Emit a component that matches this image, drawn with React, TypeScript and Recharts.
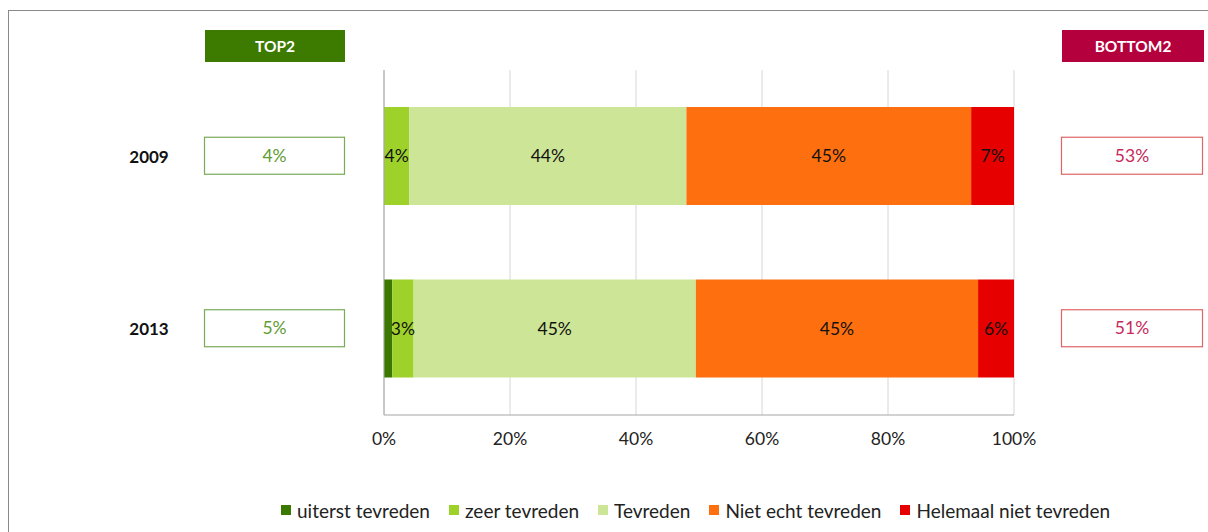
import React from 'react';
import { BarChart, Bar, XAxis, YAxis, CartesianGrid, LabelList, Legend } from 'recharts';

const years = ['2009', '2013'];
const uiterst = [0, 1.3];
const zeer = [4.0, 3.4];
const tevreden = [44.0, 44.8];
const nietEcht = [45.2, 44.8];
const helemaal = [6.8, 5.7];
const top2 = ['4%', '5%'];
const bottom2 = ['53%', '51%'];
const xTicks = [0, 20, 40, 60, 80, 100];

const series = [
  { key: 'uiterst', name: 'uiterst tevreden', color: '#3b7800' },
  { key: 'zeer', name: 'zeer tevreden', color: '#9fd12b' },
  { key: 'tevreden', name: 'Tevreden', color: '#cde596' },
  { key: 'nietEcht', name: 'Niet echt tevreden', color: '#fe6f10' },
  { key: 'helemaal', name: 'Helemaal niet tevreden', color: '#e60000' },
];

const data = years.map((y, i) => ({
  year: y,
  uiterst: uiterst[i],
  zeer: zeer[i],
  tevreden: tevreden[i],
  nietEcht: nietEcht[i],
  helemaal: helemaal[i],
}));

const FONT = 'Lato, "Open Sans", sans-serif';

const YTick = (props: any) => {
  const { y, payload, index } = props;
  const i = typeof index === 'number' ? index : years.indexOf(payload.value);
  return (
    <g>
      <text x={149} y={y} textAnchor="middle" dominantBaseline="central" fontFamily={FONT} fontWeight={700} fontSize={17} fill="#111">
        {payload.value}
      </text>
      <rect x={204.5} y={y - 19} width={140} height={37} fill="#fff" stroke="#7aab58" strokeWidth={1.2} />
      <text x={274.5} y={y - 1} textAnchor="middle" dominantBaseline="central" fontFamily={FONT} fontSize={17.5} fill="#5f9c33">
        {top2[i]}
      </text>
      <rect x={1061.5} y={y - 19} width={141} height={37} fill="#fff" stroke="#e06464" strokeWidth={1.2} />
      <text x={1132} y={y - 1} textAnchor="middle" dominantBaseline="central" fontFamily={FONT} fontSize={17.5} fill="#c8285a">
        {bottom2[i]}
      </text>
    </g>
  );
};

const LegendContent = () => (
  <div style={{ display: 'flex', alignItems: 'center', fontFamily: FONT, fontSize: 19, color: '#222', height: 28, whiteSpace: 'nowrap' }}>
    {series.map((s) => (
      <div key={s.key} style={{ display: 'flex', alignItems: 'center', marginRight: 19 }}>
        <span style={{ display: 'inline-block', width: 10, height: 10, background: s.color, marginRight: 6 }} />
        <span>{s.name}</span>
      </div>
    ))}
  </div>
);

const fmt = (v: any) => (typeof v === 'number' && v >= 2 ? `${Math.round(v)}%` : '');

export default function App() {
  return (
    <div style={{ position: 'absolute', left: 0, top: 0, width: 1208, height: 532, background: '#fff', overflow: 'hidden' }}>
      <div style={{ position: 'absolute', left: 8, top: 10, width: 1300, height: 600, borderTop: '1.5px solid #8a8a8a', borderLeft: '1.5px solid #8a8a8a' }} />
      <div style={{ position: 'absolute', left: 205, top: 30, width: 140, height: 32, background: '#3d7a00', color: '#fff', fontFamily: FONT, fontWeight: 700, fontSize: 15.5, display: 'flex', alignItems: 'center', justifyContent: 'center' }}>TOP2</div>
      <div style={{ position: 'absolute', left: 1062, top: 30, width: 142, height: 32, background: '#b5003e', color: '#fff', fontFamily: FONT, fontWeight: 700, fontSize: 15.5, display: 'flex', alignItems: 'center', justifyContent: 'center' }}>BOTTOM2</div>
      <div style={{ position: 'absolute', left: 0, top: 0 }}>
        <BarChart
          width={1208}
          height={532}
          data={data}
          layout="vertical"
          margin={{ top: 70, right: 194, left: 0, bottom: 49 }}
          barSize={98}
        >
          <CartesianGrid horizontal={false} stroke="#d6d6d6" strokeWidth={1} />
          <XAxis
            type="number"
            domain={[0, 100]}
            ticks={xTicks}
            tickFormatter={(v: number) => `${v}%`}
            axisLine={{ stroke: '#a6a6a6' }}
            tickLine={false}
            tickMargin={12}
            height={40}
            tick={{ fontFamily: FONT, fontSize: 17.5, fill: '#222' }}
          />
          <YAxis
            type="category"
            dataKey="year"
            width={384}
            axisLine={{ stroke: '#a6a6a6' }}
            tickLine={false}
            tick={<YTick />}
            interval={0}
          />
          <Legend
            verticalAlign="bottom"
            content={<LegendContent />}
            wrapperStyle={{ top: 496, left: 281, width: 'auto', bottom: 'auto' }}
          />
          {series.map((s) => (
            <Bar key={s.key} dataKey={s.key} name={s.name} stackId="a" fill={s.color} isAnimationActive={false}>
              <LabelList dataKey={s.key} position="center" formatter={fmt} fill="#111" fontFamily={FONT} fontSize={17.5} />
            </Bar>
          ))}
        </BarChart>
      </div>
    </div>
  );
}
